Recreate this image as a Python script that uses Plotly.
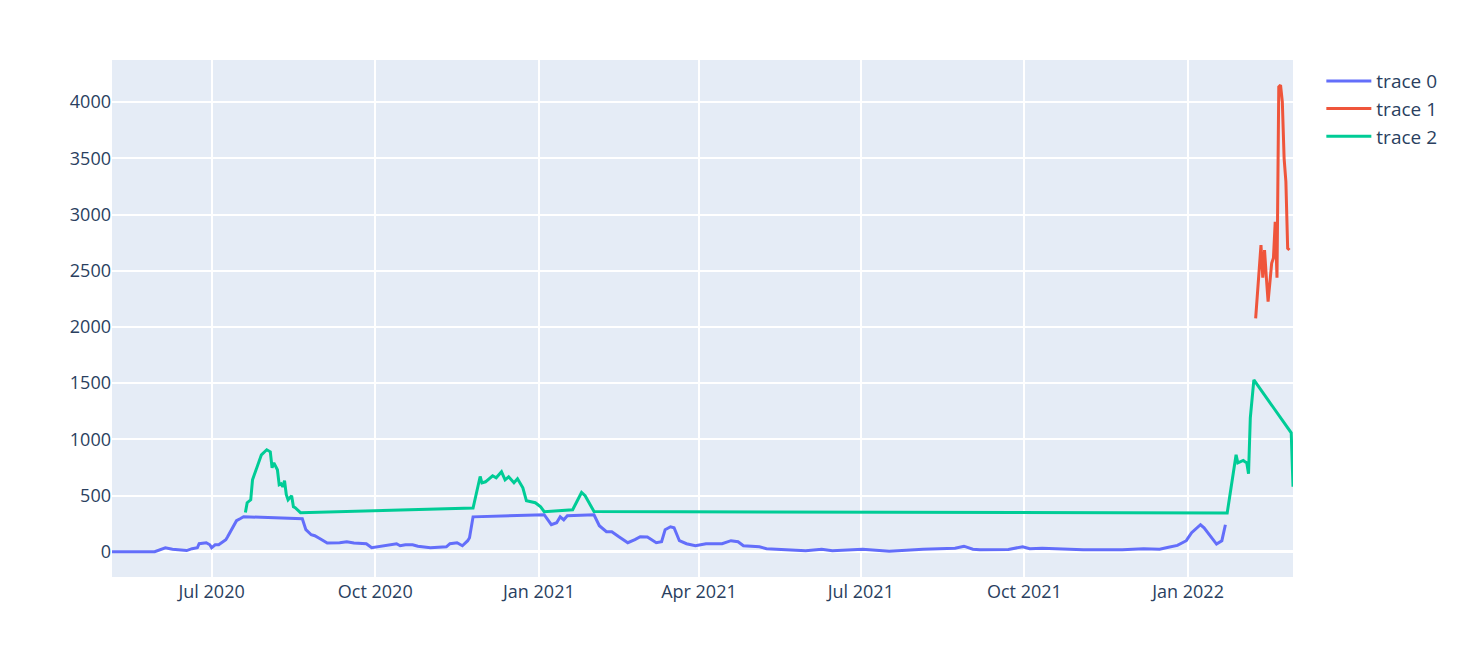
import plotly.graph_objects as go

# trace 0
t0_dates = ["2020-05-06", "2020-05-30", "2020-06-05", "2020-06-09", "2020-06-17", "2020-06-20",
            "2020-06-23", "2020-06-24", "2020-06-28", "2020-06-30", "2020-07-01", "2020-07-03",
            "2020-07-05", "2020-07-09", "2020-07-10", "2020-07-15", "2020-07-17", "2020-07-19",
            "2020-08-21", "2020-08-23", "2020-08-26", "2020-08-28", "2020-08-31", "2020-09-04",
            "2020-09-11", "2020-09-15", "2020-09-19", "2020-09-26", "2020-09-29", "2020-10-05",
            "2020-10-13", "2020-10-15", "2020-10-18", "2020-10-22", "2020-10-25", "2020-11-01",
            "2020-11-10", "2020-11-12", "2020-11-16", "2020-11-19", "2020-11-22", "2020-11-23",
            "2020-11-25", "2021-01-04", "2021-01-08", "2021-01-11", "2021-01-13", "2021-01-15",
            "2021-01-17", "2021-02-01", "2021-02-04", "2021-02-08", "2021-02-11", "2021-02-15",
            "2021-02-20", "2021-02-24", "2021-02-27", "2021-03-03", "2021-03-08", "2021-03-11",
            "2021-03-13", "2021-03-16", "2021-03-18", "2021-03-21", "2021-03-25", "2021-03-30",
            "2021-04-05", "2021-04-14", "2021-04-19", "2021-04-23", "2021-04-26", "2021-05-05",
            "2021-05-09", "2021-05-31", "2021-06-09", "2021-06-15", "2021-07-02", "2021-07-17",
            "2021-08-05", "2021-08-23", "2021-08-28", "2021-09-02", "2021-09-06", "2021-09-22",
            "2021-09-30", "2021-10-04", "2021-10-11", "2021-11-03", "2021-11-25", "2021-12-07",
            "2021-12-16", "2021-12-21", "2021-12-26", "2021-12-31", "2022-01-03", "2022-01-08",
            "2022-01-10", "2022-01-17", "2022-01-20", "2022-01-22"]
t0_values = [0, 0, 35, 22, 10, 27,
             35, 71, 80, 62, 35, 62,
             62, 107, 133, 276, 293, 311,
             293, 196, 151, 142, 115, 77,
             80, 89, 77, 71, 35, 53,
             71, 53, 62, 62, 49, 35,
             44, 71, 80, 53, 98, 124,
             310, 329, 240, 258, 311, 284,
             320, 329, 231, 178, 178, 133,
             80, 107, 133, 130, 80, 89,
             196, 222, 213, 98, 71, 53,
             71, 71, 98, 89, 53, 44,
             27, 9, 22, 9, 22, 4,
             22, 31, 49, 22, 18, 20,
             44, 27, 31, 18, 18, 27,
             22, 40, 56, 98, 169, 240,
             213, 68, 98, 240]

# trace 1
t1_dates = ["2022-02-08", "2022-02-11", "2022-02-12", "2022-02-13", "2022-02-14", "2022-02-15",
            "2022-02-17", "2022-02-18", "2022-02-19", "2022-02-20", "2022-02-21", "2022-02-22",
            "2022-02-23", "2022-02-24", "2022-02-25", "2022-02-26", "2022-02-27"]
t1_values = [2077, 2729, 2438, 2684, 2444, 2225,
             2566, 2613, 2936, 2438, 4136, 4151,
             4003, 3500, 3292, 2700, 2684]

# trace 2
t2_dates = ["2020-07-20", "2020-07-21", "2020-07-23", "2020-07-24", "2020-07-29", "2020-07-30",
            "2020-08-01", "2020-08-03", "2020-08-04", "2020-08-05", "2020-08-07", "2020-08-08",
            "2020-08-09", "2020-08-10", "2020-08-11", "2020-08-12", "2020-08-13", "2020-08-15",
            "2020-08-16", "2020-08-17", "2020-08-19", "2020-08-20", "2020-11-25", "2020-11-29",
            "2020-11-30", "2020-12-02", "2020-12-06", "2020-12-08", "2020-12-11", "2020-12-13",
            "2020-12-15", "2020-12-18", "2020-12-20", "2020-12-23", "2020-12-25", "2020-12-30",
            "2021-01-02", "2021-01-04", "2021-01-20", "2021-01-25", "2021-01-27", "2021-01-29",
            "2021-02-01", "2022-01-23", "2022-01-28", "2022-01-29", "2022-02-01", "2022-02-02",
            "2022-02-03", "2022-02-04", "2022-02-05", "2022-02-07", "2022-02-28", "2022-03-01"]
t2_values = [349, 436, 462, 640, 862, 880,
             907, 889, 747, 791, 729, 596,
             604, 578, 631, 507, 462, 498,
             400, 391, 364, 347, 388, 669,
             613, 622, 676, 658, 711, 640,
             667, 613, 649, 569, 453, 436,
             400, 356, 373, 527, 498, 444,
             358, 344, 862, 791, 812, 800,
             791, 693, 1191, 1529, 1058, 578]

names = ["trace 0", "trace 1", "trace 2"]
colors = ["#636efa", "#EF553B", "#00cc96"]

fig = go.Figure()
for xs, ys, nm, c in [(t0_dates, t0_values, names[0], colors[0]),
                      (t1_dates, t1_values, names[1], colors[1]),
                      (t2_dates, t2_values, names[2], colors[2])]:
    fig.add_trace(go.Scatter(x=xs, y=ys, mode="lines", name=nm,
                             line=dict(color=c, width=3)))

fig.update_layout(
    template="plotly",
    font=dict(size=18),
    margin=dict(l=104, r=171, t=52, b=62),
    legend=dict(font=dict(size=19), itemwidth=45, x=1.024, y=0.996),
    xaxis=dict(gridwidth=2, ticklabelstandoff=2),
    yaxis=dict(gridwidth=2, zerolinewidth=3, range=[-225, 4375]),
)

fig.write_html("out.html")
